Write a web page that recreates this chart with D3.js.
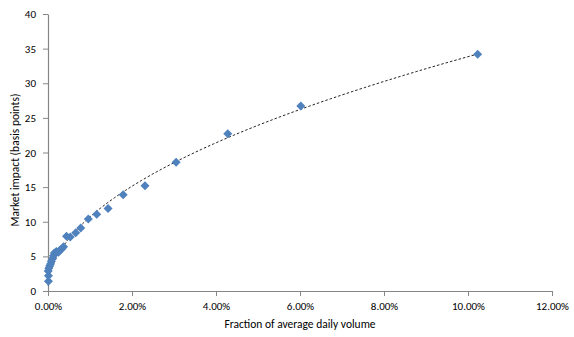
<!DOCTYPE html>
<html>
<head>
<meta charset="utf-8">
<script src="https://cdn.jsdelivr.net/npm/d3@7/dist/d3.min.js"></script>
<style>
  html, body { margin: 0; padding: 0; background: #fff; }
  svg { display: block; }
  text { font-family: Carlito, Lato, "Open Sans", sans-serif; fill: #000; }
</style>
</head>
<body>
<svg id="chart" width="574" height="337"></svg>
<script>
// Fraction of average daily volume (%)
const volumePct = [0.01, 0.01, 0.005, 0.02, 0.04, 0.06, 0.08, 0.11, 0.13, 0.15, 0.20, 0.25, 0.28, 0.33, 0.37,
                   0.44, 0.53, 0.66, 0.78, 0.96, 1.16, 1.43, 1.79, 2.31, 3.05, 4.28, 6.02, 10.23];
// Market impact (basis points)
const impactBp  = [1.4, 2.2, 2.9, 3.3, 3.6, 3.9, 4.3, 4.7, 5.1, 5.5, 5.7, 5.6, 5.9, 6.1, 6.4,
                   7.9, 7.8, 8.4, 9.1, 10.4, 11.1, 11.9, 13.9, 15.2, 18.6, 22.7, 26.7, 34.2];
// Power trendline y = a * x^b (x in %), as shown on the chart
const trendCoef = [10.7, 0.5];
const xTicks = [0, 2, 4, 6, 8, 10, 12];
const yTicks = [0, 5, 10, 15, 20, 25, 30, 35, 40];
const xTitle = "Fraction of average daily volume";
const yTitle = "Market impact (basis points)";

const svg = d3.select("#chart");
const x = d3.scaleLinear().domain([0, 12]).range([48, 552]);
const y = d3.scaleLinear().domain([0, 40]).range([291, 14]);
const axisColor = "#868686";

// X axis
const gx = svg.append("g").attr("transform", `translate(0,${y(0)})`)
  .call(d3.axisBottom(x).tickValues(xTicks).tickSizeOuter(0).tickSizeInner(5).tickPadding(6)
        .tickFormat(d => d.toFixed(2) + "%"));
gx.select(".domain").attr("stroke", axisColor).attr("stroke-width", 1.2);
gx.selectAll(".tick line").attr("stroke", axisColor);
gx.selectAll("text").attr("font-size", 11).attr("fill", "#000");

// Y axis
const gy = svg.append("g").attr("transform", `translate(${x(0)},0)`)
  .call(d3.axisLeft(y).tickValues(yTicks).tickSizeOuter(0).tickSizeInner(5).tickPadding(7));
gy.select(".domain").attr("stroke", axisColor).attr("stroke-width", 1.2);
gy.selectAll(".tick line").attr("stroke", axisColor);
gy.selectAll("text").attr("font-size", 11).attr("fill", "#000");

// Axis titles
svg.append("text").attr("x", 300).attr("y", 328).attr("text-anchor", "middle")
  .attr("font-size", 11.5).text(xTitle);
svg.append("text").attr("transform", `translate(19,160) rotate(-90)`).attr("text-anchor", "middle")
  .attr("font-size", 11.5).text(yTitle);

// Power trendline over the data range
const [a, b] = trendCoef;
const [xmin, xmax] = d3.extent(volumePct);
const trend = d3.range(0, 201).map(i => {
  const xv = Math.exp(Math.log(xmin) + (Math.log(xmax) - Math.log(xmin)) * i / 200);
  return [xv, a * Math.pow(xv, b)];
});
svg.append("path").datum(trend)
  .attr("d", d3.line().x(d => x(d[0])).y(d => y(d[1])))
  .attr("fill", "none").attr("stroke", "#222").attr("stroke-width", 1)
  .attr("stroke-dasharray", "2.5,2");

// Points (diamonds)
const pts = volumePct.map((v, i) => [v, impactBp[i]]);
svg.append("g").selectAll("path").data(pts).join("path")
  .attr("transform", d => `translate(${x(d[0])},${y(d[1])})`)
  .attr("d", "M0,-4.5L4.5,0L0,4.5L-4.5,0Z")
  .attr("fill", "#4F81BD");
</script>
</body>
</html>
